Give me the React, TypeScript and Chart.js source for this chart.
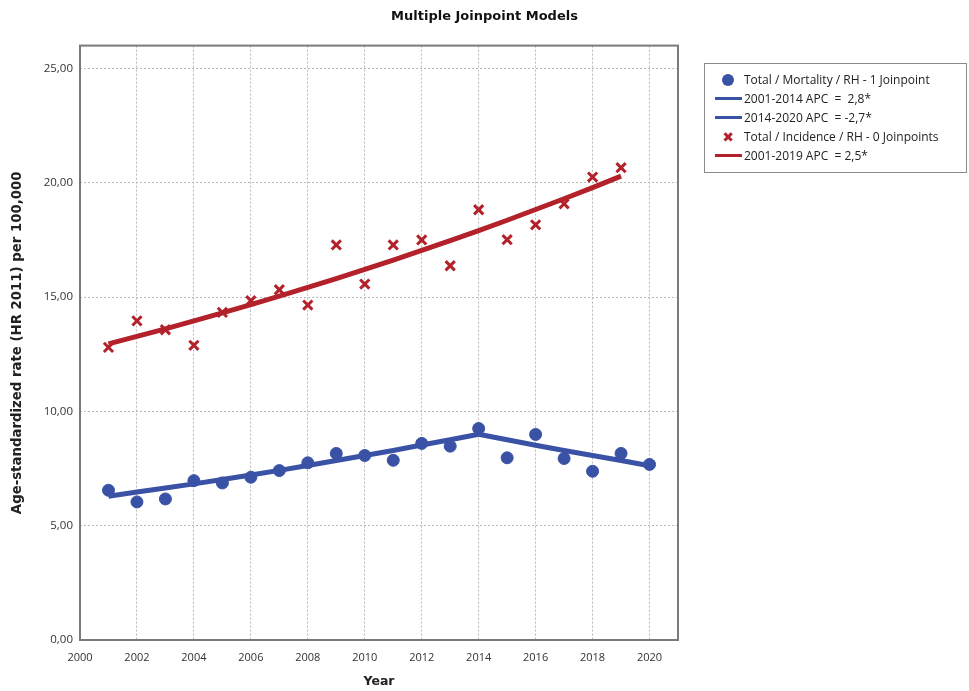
import React, { useEffect, useRef } from "react";
import { Chart, registerables } from "chart.js";

Chart.register(...registerables);

const years = [2001, 2002, 2003, 2004, 2005, 2006, 2007, 2008, 2009, 2010, 2011, 2012, 2013, 2014, 2015, 2016, 2017, 2018, 2019, 2020];
const mortality = [6.55, 6.04, 6.17, 6.97, 6.87, 7.12, 7.41, 7.75, 8.16, 8.07, 7.86, 8.6, 8.48, 9.25, 7.97, 8.99, 7.94, 7.38, 8.16, 7.68];
const mortalityFit1Years = [2001, 2002, 2003, 2004, 2005, 2006, 2007, 2008, 2009, 2010, 2011, 2012, 2013, 2014];
const mortalityFit1 = [6.29, 6.47, 6.65, 6.83, 7.02, 7.22, 7.42, 7.63, 7.85, 8.07, 8.29, 8.53, 8.76, 9.0];
const mortalityFit2Years = [2014, 2015, 2016, 2017, 2018, 2019, 2020];
const mortalityFit2 = [9.0, 8.76, 8.52, 8.29, 8.07, 7.85, 7.62];
const incidenceYears = [2001, 2002, 2003, 2004, 2005, 2006, 2007, 2008, 2009, 2010, 2011, 2012, 2013, 2014, 2015, 2016, 2017, 2018, 2019];
const incidence = [12.8, 13.96, 13.57, 12.89, 14.33, 14.84, 15.32, 14.65, 17.28, 15.57, 17.28, 17.5, 16.37, 18.82, 17.51, 18.16, 19.08, 20.25, 20.66];
const incidenceFit = [12.95, 13.28, 13.61, 13.96, 14.31, 14.67, 15.04, 15.42, 15.81, 16.21, 16.62, 17.04, 17.47, 17.91, 18.36, 18.83, 19.3, 19.79, 20.29];

const legendLabels = [
  "Total / Mortality / RH - 1 Joinpoint",
  "2001-2014 APC  =  2,8*",
  "2014-2020 APC  = -2,7*",
  "Total / Incidence / RH - 0 Joinpoints",
  "2001-2019 APC  = 2,5*",
];

const BLUE = "#3a52a5";
const RED = "#b3222a";

const pts = (xs: number[], ys: number[]) => xs.map((x, i) => ({ x, y: ys[i] }));

const borderPlugin = {
  id: "areaBorder",
  afterDraw(chart: any) {
    const { ctx, chartArea } = chart;
    ctx.save();
    ctx.strokeStyle = "#7a7a7a";
    ctx.lineWidth = 2;
    ctx.strokeRect(chartArea.left, chartArea.top, chartArea.right - chartArea.left, chartArea.bottom - chartArea.top);
    ctx.restore();
  },
};

export default function App() {
  const ref = useRef<HTMLCanvasElement | null>(null);

  useEffect(() => {
    document.body.style.margin = "0";
    if (!ref.current) return;
    const chart = new Chart(ref.current, {
      type: "scatter",
      data: {
        datasets: [
          { label: legendLabels[1], data: pts(mortalityFit1Years, mortalityFit1), showLine: true, borderColor: BLUE, borderWidth: 5, pointRadius: 0, order: 0 },
          { label: legendLabels[2], data: pts(mortalityFit2Years, mortalityFit2), showLine: true, borderColor: BLUE, borderWidth: 5, pointRadius: 0, order: 0 },
          { label: legendLabels[4], data: pts(incidenceYears, incidenceFit), showLine: true, borderColor: RED, borderWidth: 5, pointRadius: 0, order: 0 },
          { label: legendLabels[0], data: pts(years, mortality), pointStyle: "circle", pointRadius: 6, backgroundColor: BLUE, borderColor: BLUE, borderWidth: 1, order: 1 },
          { label: legendLabels[3], data: pts(incidenceYears, incidence), pointStyle: "crossRot", pointRadius: 6.5, borderColor: RED, backgroundColor: RED, borderWidth: 3, order: 1 },
        ],
      },
      options: {
        animation: false,
        responsive: false,
        layout: { padding: 0 },
        plugins: {
          legend: { display: false },
          tooltip: { enabled: false },
          title: {
            display: true,
            text: "Multiple Joinpoint Models",
            color: "#111",
            font: { family: "DejaVu Sans", size: 13, weight: "bold" },
            padding: { top: 9, bottom: 21 },
          },
        },
        scales: {
          x: {
            type: "linear",
            min: 2000,
            max: 2021,
            afterFit: (s: any) => { s.height = 51; },
            ticks: {
              stepSize: 2,
              includeBounds: false,
              padding: 11,
              color: "#333",
              font: { family: "Open Sans", size: 11 },
              callback: (v: any) => String(v),
            },
            grid: { color: "#b8b8b8", drawTicks: false },
            border: { display: false, dash: [2, 2] },
            title: {
              display: true,
              text: "Year",
              color: "#222",
              font: { family: "DejaVu Sans", size: 12.5, weight: "bold" },
              padding: { top: 0, bottom: 2 },
            },
          },
          y: {
            type: "linear",
            min: 0,
            max: 26,
            afterFit: (s: any) => { s.width = 80; },
            ticks: {
              stepSize: 5,
              includeBounds: false,
              padding: 7,
              color: "#333",
              font: { family: "Open Sans", size: 11.5 },
              callback: (v: any) => Number(v).toFixed(2).replace(".", ","),
            },
            grid: { color: "#b8b8b8", drawTicks: false },
            border: { display: false, dash: [2, 2] },
            title: {
              display: true,
              text: "Age-standardized rate (HR 2011) per 100,000",
              color: "#222",
              font: { family: "DejaVu Sans", size: 13.3, weight: "bold" },
              padding: { top: 10, bottom: 0 },
            },
          },
          spacer: {
            type: "linear",
            position: "right",
            display: true,
            afterFit: (s: any) => { s.width = 291; },
            ticks: { display: false },
            grid: { display: false, drawTicks: false },
            border: { display: false },
          },
        },
      },
      plugins: [borderPlugin],
    });
    return () => chart.destroy();
  }, []);

  const rowStyle: React.CSSProperties = { display: "flex", alignItems: "center", height: 19, whiteSpace: "pre" };
  const iconBox: React.CSSProperties = { width: 30, display: "flex", justifyContent: "center", alignItems: "center", marginRight: 1 };
  const line = (c: string) => <div style={{ width: 27, height: 3, background: c }} />;
  const icons = [
    <div style={{ width: 12, height: 12, borderRadius: 6, background: BLUE }} />,
    line(BLUE),
    line(BLUE),
    <span style={{ color: RED, fontWeight: "bold", fontSize: 14, lineHeight: "14px", fontFamily: "DejaVu Sans" }}>✖</span>,
    line(RED),
  ];

  return (
    <div style={{ position: "absolute", left: 0, top: 0, width: 969, height: 691, background: "#fff" }}>
      <canvas ref={ref} width={969} height={691} />
      <div
        style={{
          position: "absolute",
          left: 704,
          top: 63,
          width: 263,
          height: 110,
          border: "1px solid #8a8a8a",
          boxSizing: "border-box",
          padding: "6px 0 0 8px",
          fontFamily: "Open Sans",
          fontSize: 12,
          color: "#222",
        }}
      >
        {legendLabels.map((t, i) => (
          <div key={i} style={rowStyle}>
            <div style={iconBox}>{icons[i]}</div>
            <span>{t}</span>
          </div>
        ))}
      </div>
    </div>
  );
}
